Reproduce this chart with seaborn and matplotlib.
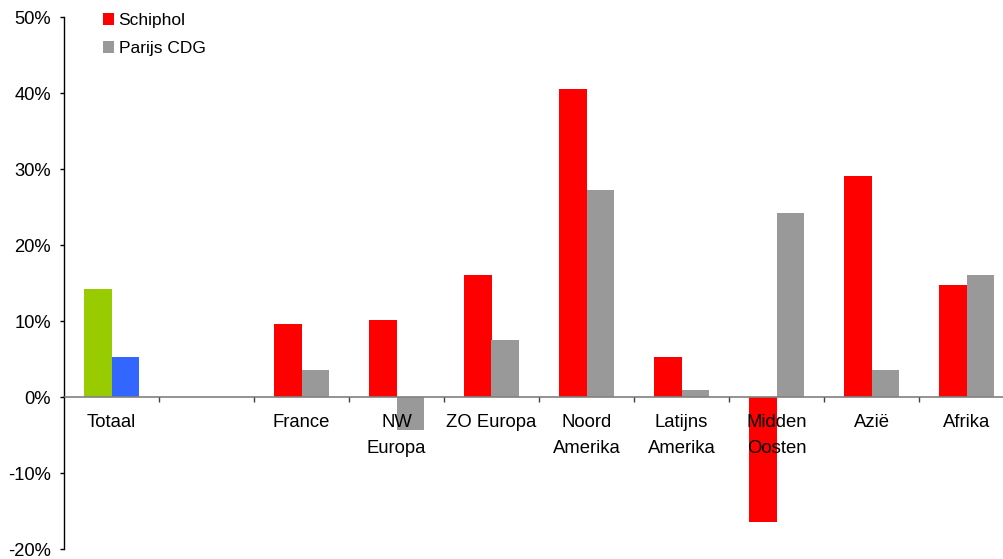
import matplotlib
matplotlib.use("Agg")
import matplotlib.pyplot as plt
import seaborn as sns
import pandas as pd
from matplotlib.patches import Patch
from matplotlib.ticker import FuncFormatter, MultipleLocator, FixedLocator

categories = ["Totaal", "", "France", "NW\nEuropa", "ZO Europa", "Noord\nAmerika",
              "Latijns\nAmerika", "Midden\nOosten", "Azië", "Afrika"]
schiphol = [14.2, None, 9.6, 10.1, 16.1, 40.5, 5.3, -16.5, 29.1, 14.7]
parijs = [5.3, None, 3.6, -4.3, 7.5, 27.2, 0.9, 24.2, 3.6, 16.1]
series = ["Schiphol", "Parijs CDG"]
series_colors = ["#FF0000", "#999999"]
totaal_colors = ["#99CC00", "#3366FF"]

rows = []
for cat, s, p in zip(categories, schiphol, parijs):
    if s is not None:
        rows.append({"cat": cat, "serie": series[0], "val": s})
    if p is not None:
        rows.append({"cat": cat, "serie": series[1], "val": p})
df = pd.DataFrame(rows)

sns.set_style("white")
plt.rcParams["font.family"] = ["Liberation Sans", "DejaVu Sans"]
plt.rcParams["text.color"] = "black"
plt.rcParams["xtick.color"] = "black"
plt.rcParams["ytick.color"] = "black"
plt.rcParams["xtick.labelcolor"] = "black"
plt.rcParams["ytick.labelcolor"] = "black"

fig = plt.figure(figsize=(10.04, 5.59), dpi=100)
ax = fig.add_axes([64 / 1004, 10 / 559, 950 / 1004, 532 / 559])

sns.barplot(data=df, x="cat", y="val", hue="serie", order=categories,
            hue_order=series, palette=series_colors, width=0.58,
            errorbar=None, saturation=1, ax=ax, legend=False)

# recolor the Totaal bars
for cont, col in zip(ax.containers, totaal_colors):
    for bar in cont:
        cx = bar.get_x() + bar.get_width() / 2
        if abs(cx) < 0.5:
            bar.set_facecolor(col)
for bar in ax.patches:
    bar.set_edgecolor("none")
    bar.set_linewidth(0)
    bar.set_zorder(1)
ax.set_axisbelow(False)

ax.set_xlim(-0.5, 9.5)
ax.set_ylim(-20, 50)
ax.yaxis.set_major_locator(MultipleLocator(10))
ax.yaxis.set_major_formatter(FuncFormatter(lambda v, p: f"{v:.0f}%"))
ax.set_xlabel("")
ax.set_ylabel("")

for s in ["top", "right"]:
    ax.spines[s].set_visible(False)
ax.spines["bottom"].set_position(("data", 0))
ax.spines["bottom"].set_color("#808080")
ax.spines["bottom"].set_linewidth(1.2)
ax.spines["left"].set_color("black")
ax.spines["left"].set_linewidth(1.0)

ax.tick_params(axis="y", which="major", direction="out", length=3, width=1,
               color="black", labelcolor="black", pad=6.5, labelsize=13.2, left=True)
ax.tick_params(axis="x", which="major", length=0, pad=12.5, labelsize=13.3,
               labelcolor="black")
ax.xaxis.set_minor_locator(FixedLocator([i + 0.5 for i in range(9)]))
ax.tick_params(axis="x", which="minor", direction="out", length=3.5, width=1,
               color="#404040", bottom=True)
for lbl in ax.get_xticklabels():
    lbl.set_linespacing(1.7)

handles = [Patch(facecolor=c, edgecolor="none", label=l) for c, l in zip(series_colors, series)]
leg = ax.legend(handles=handles, loc="upper left", bbox_to_anchor=(103 / 1004, 1 - 13 / 559),
                bbox_transform=fig.transFigure, frameon=False, fontsize=12.5,
                handlelength=0.65, handleheight=0.65, handletextpad=0.25,
                labelspacing=0.75, borderpad=0, borderaxespad=0)
for t in leg.get_texts():
    t.set_color("black")

fig.savefig("out.png", dpi=100)
